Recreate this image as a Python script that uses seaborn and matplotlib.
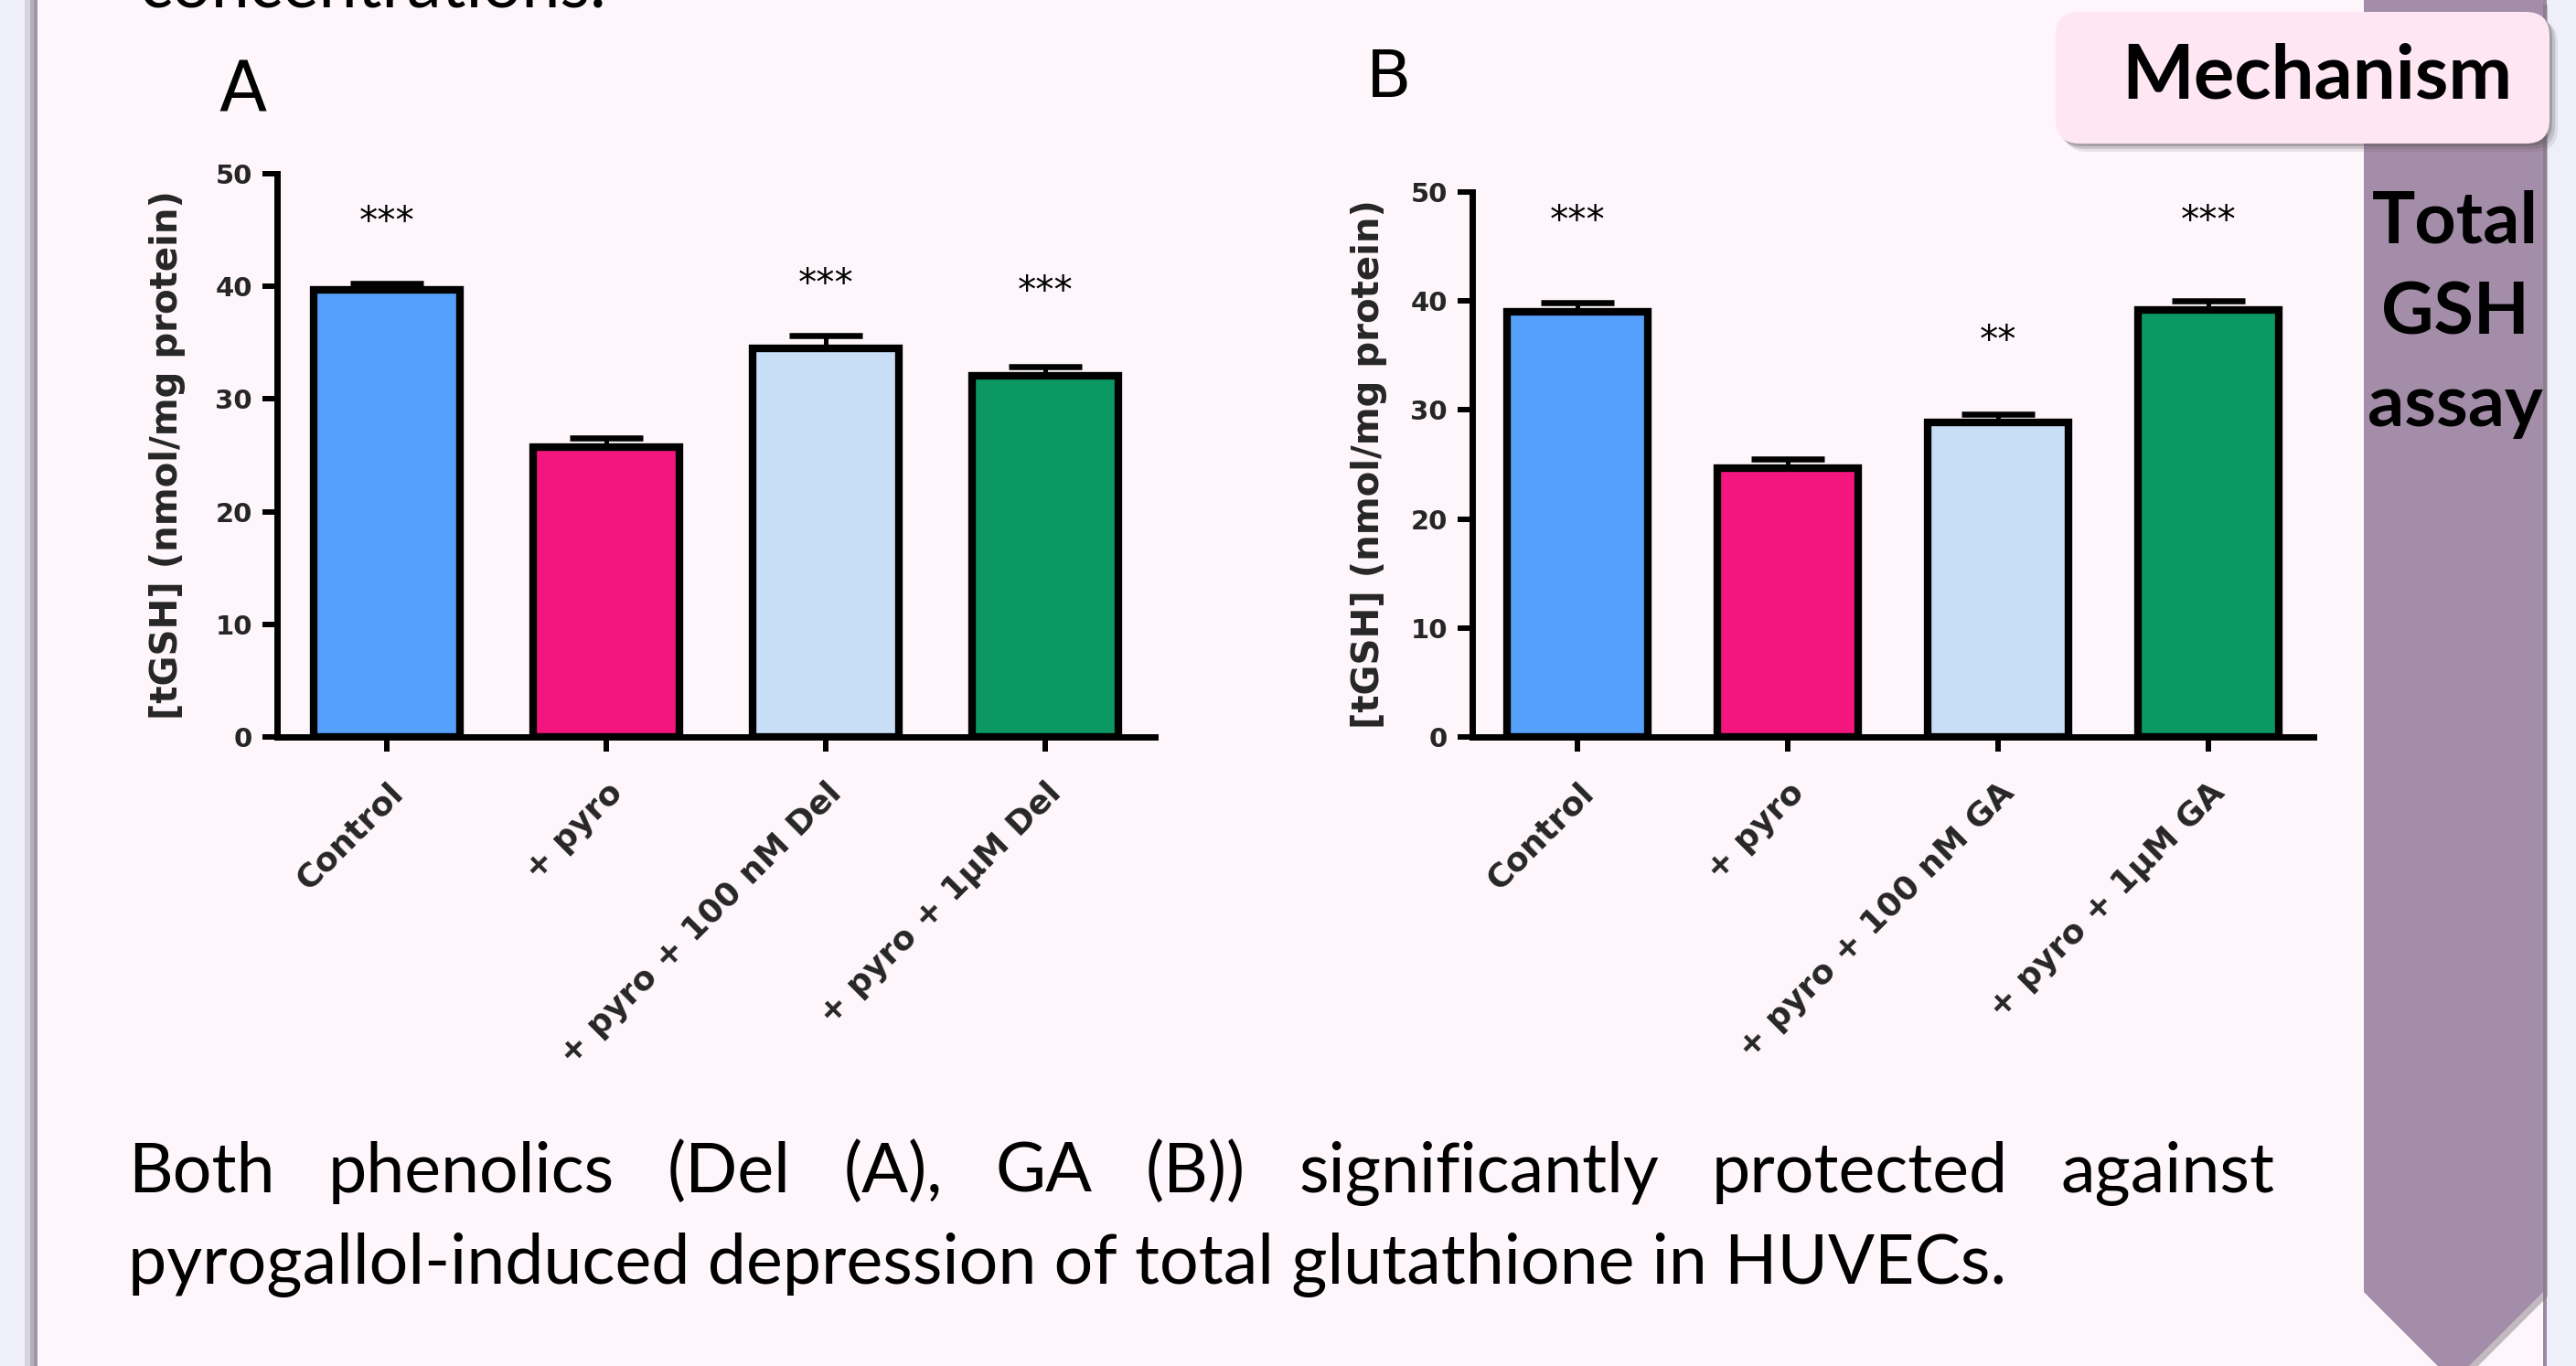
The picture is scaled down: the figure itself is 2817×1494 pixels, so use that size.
import matplotlib.pyplot as plt
import seaborn as sns
from matplotlib.patches import Polygon, Rectangle, FancyBboxPatch

sns.set_theme(style="ticks")
plt.rcParams['font.family'] = ['DejaVu Sans']

W, H = 2817, 1494

# panel A - delphinidin
cats_a = ["Control", "+ pyro", "+ pyro + 100 nM Del", "+ pyro + 1μM Del"]
mean_a = [39.7, 25.7, 34.5, 32.1]
sem_a = [0.6, 0.85, 1.1, 0.75]
stars_a = ["***", "", "***", "***"]
star_y_a = [46.6, 0, 41.1, 40.5]

# panel B - gallic acid
cats_b = ["Control", "+ pyro", "+ pyro + 100 nM GA", "+ pyro + 1μM GA"]
mean_b = [39.0, 24.7, 28.9, 39.2]
sem_b = [0.85, 0.8, 0.7, 0.8]
stars_b = ["***", "", "**", "***"]
star_y_b = [48.3, 0, 37.3, 48.3]

bar_colors = ["#55A0FB", "#F5157F", "#C8DEF7", "#0C9862"]
yticks = [0, 10, 20, 30, 40, 50]

line1 = ["Both", "phenolics", "(Del", "(A),", "GA", "(B))", "significantly", "protected", "against"]
line2 = "pyrogallol-induced depression of total glutathione in HUVECs."
side_words = ["Total", "GSH", "assay"]

page = '#FEF6FB'
purple = '#A48DA8'


def draw_panel(ax, cats, means, sems, stars, star_y, label_x):
    sns.barplot(x=cats, y=means, hue=cats, palette=bar_colors, width=0.67, saturation=1,
                edgecolor='black', linewidth=6, legend=False, ax=ax)
    ax.errorbar(range(len(cats)), means, yerr=[[0] * len(sems), sems], fmt='none',
                ecolor='black', elinewidth=3.6, capsize=29, capthick=4.7, zorder=3)
    # asterisks sit high in the em box, so anchor on the baseline and drop it
    for i, s in enumerate(stars):
        if s:
            ax.annotate(s, (i, star_y[i]), xytext=(0, -17), textcoords='offset points',
                        ha='center', va='baseline', fontsize=29, color='black')
    ax.set_xlim(-0.5, 3.5)
    ax.set_ylim(0, 50)
    ax.set_yticks(yticks, [str(v) for v in yticks], fontweight='bold', fontsize=21)
    ax.set_xticks(range(len(cats)), cats, rotation=45, ha='right', va='top',
                  rotation_mode='anchor', fontweight='bold', fontsize=26)
    ax.tick_params(axis='both', length=11.5, width=4.3, color='black', direction='out')
    ax.tick_params(axis='y', pad=8)
    ax.tick_params(axis='x', pad=20)
    ax.set_xlabel("")
    ax.set_ylabel("[tGSH] (nmol/mg protein)", fontsize=29, fontweight='bold')
    ax.yaxis.set_label_coords(label_x, 0.5)
    ax.spines[['top', 'right']].set_visible(False)
    for sp in ['left', 'bottom']:
        ax.spines[sp].set_linewidth(5)
        ax.spines[sp].set_color('black')
    ax.set_facecolor('none')
    ax.set_zorder(2)


fig = plt.figure(figsize=(W / 100, H / 100), dpi=100, facecolor='#EFEFFA')

# slide background drawn in pixel coordinates
bg = fig.add_axes([0, 0, 1, 1], zorder=0)
bg.set_xlim(0, W)
bg.set_ylim(H, 0)
bg.axis('off')

bg.add_patch(Rectangle((41, 0), 2742, H, color=page, lw=0))
bg.add_patch(Rectangle((27, 0), 6, H, color='#D6D4E0', lw=0))
bg.add_patch(Rectangle((33, 0), 4, H, color='#B5AFBD', lw=0))
bg.add_patch(Rectangle((37, 0), 4, H, color='#A294A8', lw=0))
bg.add_patch(Rectangle((2781, 0), 4, H, color='#9C88A1', lw=0))

band = [(2585, 0), (2781, 0), (2781, 1413), (2683, 1511), (2585, 1413)]
bg.add_patch(Polygon([(x + 5, y + 5) for x, y in band], color='#7A727C', alpha=0.45, lw=0))
bg.add_patch(Polygon(band, color=purple, lw=0))

for k, a in [(9, 0.12), (6, 0.2), (3, 0.3)]:
    bg.add_patch(FancyBboxPatch((2248 + k, 13 + k), 540, 144,
                                boxstyle="round,pad=0,rounding_size=26",
                                color='#555055', alpha=a, lw=0))
bg.add_patch(FancyBboxPatch((2248, 13), 540, 144, boxstyle="round,pad=0,rounding_size=26",
                            color='#FEE6F2', lw=0))

bg.text(2534, 108, "Mechanism", family='Lato', fontweight='bold', fontsize=60,
        ha='center', va='baseline', color='black')
for i, wd in enumerate(side_words):
    bg.text(2685, 266 + 100 * i, wd, family='Lato', fontweight='bold', fontsize=57,
            ha='center', va='baseline', color='black')

bg.text(266, 122, "A", family=['Liberation Sans Narrow', 'DejaVu Sans'], fontsize=55,
        ha='center', va='baseline', color='black')
bg.text(1519, 106, "B", family=['Liberation Sans Narrow', 'DejaVu Sans'], fontsize=52,
        ha='center', va='baseline', color='black')

# paragraph, second line sets the font size, first line is justified
r = fig.canvas.get_renderer()
t2 = bg.text(140, 1404, line2, family='Lato', fontsize=48, va='baseline', color='black')
size = 48 * 2054 / t2.get_window_extent(r).width
t2.set_fontsize(size)
words = [bg.text(0, 1304, wd, family='Lato', fontsize=size, va='baseline', color='black')
         for wd in line1]
widths = [t.get_window_extent(r).width for t in words]
gap = (2348 - sum(widths)) / (len(words) - 1)
x = 140
for t, w in zip(words, widths):
    t.set_x(x)
    x += w + gap

bg.text(153, 8, "concentrations.", family='Lato', fontsize=size, va='baseline', color='black')

ax_a = fig.add_axes([303 / W, (H - 806) / H, 960 / W, 616 / H])
draw_panel(ax_a, cats_a, mean_a, sem_a, stars_a, star_y_a, -0.104)

ax_b = fig.add_axes([1610 / W, (H - 806) / H, 920 / W, 596 / H])
draw_panel(ax_b, cats_b, mean_b, sem_b, stars_b, star_y_b, -0.101)

fig.savefig('out.png', dpi=100, facecolor=fig.get_facecolor())
